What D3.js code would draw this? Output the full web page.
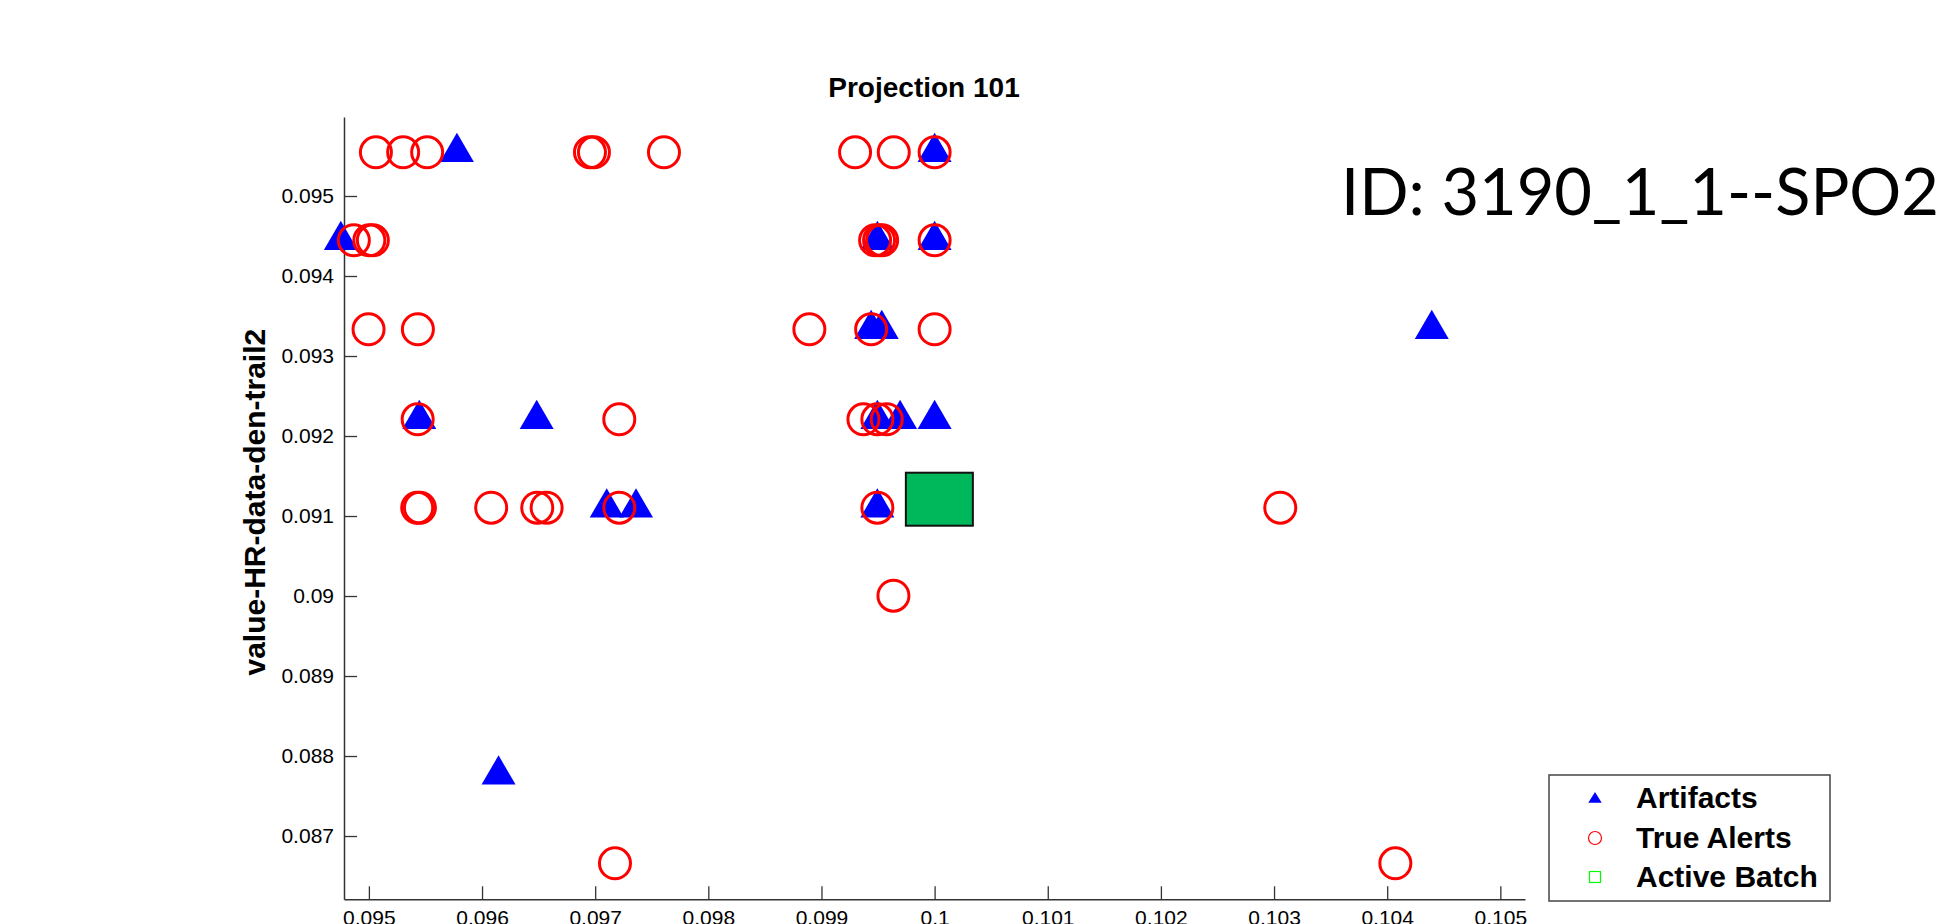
<!DOCTYPE html>
<html>
<head>
<meta charset="utf-8">
<script src="https://cdn.jsdelivr.net/npm/d3@7"></script>
<style>
  html, body { margin: 0; padding: 0; background: #fff; }
  svg { display: block; }
</style>
</head>
<body>
<svg id="chart" width="1944" height="924"></svg>
<script>
// ---------------- DATA ----------------
const xDomain = [0.09478, 0.105218];
const yDomain = [0.086209, 0.0959875];

const xTicks = [0.095, 0.096, 0.097, 0.098, 0.099, 0.100, 0.101, 0.102, 0.103, 0.104, 0.105];
const xTickLabels = ["0.095", "0.096", "0.097", "0.098", "0.099", "0.1", "0.101", "0.102", "0.103", "0.104", "0.105"];
const yTicks = [0.087, 0.088, 0.089, 0.090, 0.091, 0.092, 0.093, 0.094, 0.095];
const yTickLabels = ["0.087", "0.088", "0.089", "0.09", "0.091", "0.092", "0.093", "0.094", "0.095"];

// Artifacts (blue triangles): [x, y]
const artifacts = [
  [0.095778, 0.095546], [0.100000, 0.095546],
  [0.094752, 0.094446], [0.099494, 0.094446], [0.100000, 0.094446],
  [0.099439, 0.093334], [0.099533, 0.093334], [0.104394, 0.093334],
  [0.095445, 0.092209], [0.096483, 0.092209], [0.099494, 0.092209], [0.099695, 0.092209], [0.100000, 0.092209],
  [0.097102, 0.091104], [0.097361, 0.091104], [0.099494, 0.091104],
  [0.096146, 0.087765]
];

// True Alerts (red circles): [x, y]
const trueAlerts = [
  [0.095062, 0.095546], [0.095303, 0.095546], [0.095515, 0.095546], [0.096954, 0.095546], [0.096989, 0.095546],
  [0.097608, 0.095546], [0.099297, 0.095546], [0.099639, 0.095546], [0.100000, 0.095546],
  [0.094867, 0.094446], [0.095004, 0.094446], [0.095035, 0.094446], [0.099474, 0.094446], [0.099509, 0.094446],
  [0.099536, 0.094446], [0.100000, 0.094446],
  [0.094997, 0.093334], [0.095433, 0.093334], [0.098893, 0.093334], [0.099439, 0.093334], [0.100000, 0.093334],
  [0.095431, 0.092209], [0.097213, 0.092209], [0.099371, 0.092209], [0.099494, 0.092209], [0.099577, 0.092209],
  [0.095427, 0.091104], [0.095451, 0.091104], [0.096081, 0.091104], [0.096488, 0.091104], [0.096571, 0.091104],
  [0.097213, 0.091104], [0.099494, 0.091104], [0.103055, 0.091104],
  [0.099636, 0.090004],
  [0.097175, 0.086659], [0.104072, 0.086659]
];

// Active Batch (green square): [x, y]
const activeBatch = [[0.100042, 0.091210]];

const legendLabels = ["Artifacts", "True Alerts", "Active Batch"];
const titleText = "Projection 101";
const yLabelText = "value-HR-data-den-trail2";
const idText = "ID: 3190_1_1--SPO2";

// ---------------- DRAW ----------------
const svg = d3.select("#chart");
const plot = { left: 344, right: 1525, top: 117, bottom: 899.3 };

const x = d3.scaleLinear().domain(xDomain).range([plot.left, plot.right]);
const y = d3.scaleLinear().domain(yDomain).range([plot.bottom, plot.top]);

const FONT = "'Liberation Sans', Arial, Helvetica, sans-serif";

// Axes
const xAxis = d3.axisBottom(x)
  .tickValues(xTicks)
  .tickFormat((d, i) => xTickLabels[i])
  .tickSizeInner(-13).tickSizeOuter(0).tickPadding(11);
const yAxis = d3.axisLeft(y)
  .tickValues(yTicks)
  .tickFormat((d, i) => yTickLabels[i])
  .tickSizeInner(-13).tickSizeOuter(0).tickPadding(10);

const gx = svg.append("g").attr("transform", `translate(0,${plot.bottom})`).call(xAxis);
const gy = svg.append("g").attr("transform", `translate(${plot.left},0)`).call(yAxis);

[gx, gy].forEach(g => {
  g.select(".domain").attr("stroke", "#333").attr("stroke-width", 1.5);
  g.selectAll(".tick line").attr("stroke", "#333").attr("stroke-width", 1.3);
  g.selectAll(".tick text").attr("fill", "#000")
    .style("font-family", FONT).style("font-size", "21px");
});

// Title
svg.append("text")
  .attr("x", 924).attr("y", 97)
  .attr("text-anchor", "middle")
  .style("font-family", FONT).style("font-weight", "bold").style("font-size", "28px")
  .text(titleText);

// Y label
svg.append("text")
  .attr("transform", `translate(265,${(plot.top + plot.bottom) / 2 - 6}) rotate(-90)`)
  .attr("text-anchor", "middle")
  .style("font-family", FONT).style("font-weight", "bold").style("font-size", "30px")
  .text(yLabelText);

// Marker shapes
const triPath = "M0,-19.5L17,9.8L-17,9.8Z";

svg.append("g").selectAll("path")
  .data(artifacts).join("path")
  .attr("d", triPath)
  .attr("transform", d => `translate(${x(d[0])},${y(d[1])})`)
  .attr("fill", "#0000ff");

svg.append("g").selectAll("circle")
  .data(trueAlerts).join("circle")
  .attr("cx", d => x(d[0])).attr("cy", d => y(d[1]))
  .attr("r", 15.5)
  .attr("fill", "none").attr("stroke", "#ff0000").attr("stroke-width", 3);

svg.append("g").selectAll("rect")
  .data(activeBatch).join("rect")
  .attr("x", d => x(d[0]) - 33.5).attr("y", d => y(d[1]) - 26.5)
  .attr("width", 67).attr("height", 53)
  .attr("fill", "#00b85c").attr("stroke", "#111").attr("stroke-width", 2);

// Legend
const lg = svg.append("g");
lg.append("rect")
  .attr("x", 1549).attr("y", 775).attr("width", 281).attr("height", 126)
  .attr("fill", "#fff").attr("stroke", "#444").attr("stroke-width", 1.5);
const rowY = [798, 838, 877];
lg.append("path").attr("d", "M0,-7L6.7,3.7L-6.7,3.7Z")
  .attr("transform", `translate(1595,${rowY[0] + 1})`).attr("fill", "#0000ff");
lg.append("circle").attr("cx", 1595).attr("cy", rowY[1]).attr("r", 6.5)
  .attr("fill", "none").attr("stroke", "#ff0000").attr("stroke-width", 1.2);
lg.append("rect").attr("x", 1595 - 5.5).attr("y", rowY[2] - 5.5).attr("width", 11).attr("height", 11)
  .attr("fill", "none").attr("stroke", "#00ff00").attr("stroke-width", 1.2);
lg.selectAll("text.leg").data(legendLabels).join("text")
  .attr("class", "leg")
  .attr("x", 1636).attr("y", (d, i) => [807.5, 847.5, 887][i])
  .style("font-family", FONT).style("font-weight", "bold").style("font-size", "30px")
  .text(d => d);

// ID annotation
svg.append("text")
  .attr("x", 1341).attr("y", 214.5)
  .attr("textLength", 598).attr("lengthAdjust", "spacingAndGlyphs")
  .style("font-family", "Lato, 'Open Sans', sans-serif").style("font-size", "66.5px")
  .attr("fill", "#000")
  .text(idText);
</script>
</body>
</html>
